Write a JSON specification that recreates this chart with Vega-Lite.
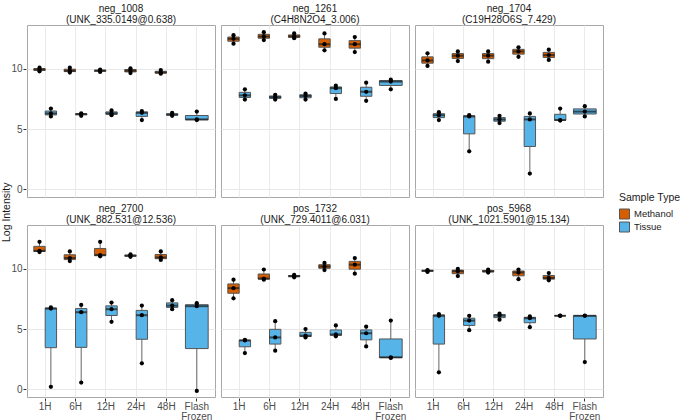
{
"$schema": "https://vega.github.io/schema/vega-lite/v6.json",
"padding": {"left": 2, "top": 3, "right": 0, "bottom": 0},
"background": "white",
"config": {
  "font": "Liberation Sans",
  "view": {"stroke": "#a8a8a8", "strokeWidth": 1},
  "axis": {"labelFontSize": 10, "labelColor": "#4d4d4d", "tickColor": "#333333", "tickSize": 3, "domain": false, "labelPadding": 1}
},
"title": {"text": "Log Intensity", "orient": "left", "anchor": "middle", "fontSize": 10.5, "fontWeight": "normal", "color": "#1a1a1a", "offset": -2},
"data": {"values": [
{"p":"neg_1008 (UNK_335.0149@0.638)","t":"1H","s":"Methanol","v":10.1},
{"p":"neg_1008 (UNK_335.0149@0.638)","t":"1H","s":"Methanol","v":9.95},
{"p":"neg_1008 (UNK_335.0149@0.638)","t":"1H","s":"Methanol","v":9.8},
{"p":"neg_1008 (UNK_335.0149@0.638)","t":"6H","s":"Methanol","v":10.1},
{"p":"neg_1008 (UNK_335.0149@0.638)","t":"6H","s":"Methanol","v":9.85},
{"p":"neg_1008 (UNK_335.0149@0.638)","t":"6H","s":"Methanol","v":9.7},
{"p":"neg_1008 (UNK_335.0149@0.638)","t":"12H","s":"Methanol","v":9.95},
{"p":"neg_1008 (UNK_335.0149@0.638)","t":"12H","s":"Methanol","v":9.85},
{"p":"neg_1008 (UNK_335.0149@0.638)","t":"12H","s":"Methanol","v":9.75},
{"p":"neg_1008 (UNK_335.0149@0.638)","t":"24H","s":"Methanol","v":10.05},
{"p":"neg_1008 (UNK_335.0149@0.638)","t":"24H","s":"Methanol","v":9.85},
{"p":"neg_1008 (UNK_335.0149@0.638)","t":"24H","s":"Methanol","v":9.65},
{"p":"neg_1008 (UNK_335.0149@0.638)","t":"48H","s":"Methanol","v":9.9},
{"p":"neg_1008 (UNK_335.0149@0.638)","t":"48H","s":"Methanol","v":9.7},
{"p":"neg_1008 (UNK_335.0149@0.638)","t":"48H","s":"Methanol","v":9.6},
{"p":"neg_1008 (UNK_335.0149@0.638)","t":"1H","s":"Tissue","v":6.7},
{"p":"neg_1008 (UNK_335.0149@0.638)","t":"1H","s":"Tissue","v":6.3},
{"p":"neg_1008 (UNK_335.0149@0.638)","t":"1H","s":"Tissue","v":6.05},
{"p":"neg_1008 (UNK_335.0149@0.638)","t":"6H","s":"Tissue","v":6.3},
{"p":"neg_1008 (UNK_335.0149@0.638)","t":"6H","s":"Tissue","v":6.25},
{"p":"neg_1008 (UNK_335.0149@0.638)","t":"6H","s":"Tissue","v":6.1},
{"p":"neg_1008 (UNK_335.0149@0.638)","t":"12H","s":"Tissue","v":6.55},
{"p":"neg_1008 (UNK_335.0149@0.638)","t":"12H","s":"Tissue","v":6.3},
{"p":"neg_1008 (UNK_335.0149@0.638)","t":"12H","s":"Tissue","v":6.15},
{"p":"neg_1008 (UNK_335.0149@0.638)","t":"24H","s":"Tissue","v":6.5},
{"p":"neg_1008 (UNK_335.0149@0.638)","t":"24H","s":"Tissue","v":6.35},
{"p":"neg_1008 (UNK_335.0149@0.638)","t":"24H","s":"Tissue","v":5.75},
{"p":"neg_1008 (UNK_335.0149@0.638)","t":"48H","s":"Tissue","v":6.35},
{"p":"neg_1008 (UNK_335.0149@0.638)","t":"48H","s":"Tissue","v":6.2},
{"p":"neg_1008 (UNK_335.0149@0.638)","t":"48H","s":"Tissue","v":6.1},
{"p":"neg_1008 (UNK_335.0149@0.638)","t":"Flash Frozen","s":"Tissue","v":6.45},
{"p":"neg_1008 (UNK_335.0149@0.638)","t":"Flash Frozen","s":"Tissue","v":5.8},
{"p":"neg_1008 (UNK_335.0149@0.638)","t":"Flash Frozen","s":"Tissue","v":5.75},
{"p":"neg_1261 (C4H8N2O4_3.006)","t":"1H","s":"Methanol","v":12.8},
{"p":"neg_1261 (C4H8N2O4_3.006)","t":"1H","s":"Methanol","v":12.5},
{"p":"neg_1261 (C4H8N2O4_3.006)","t":"1H","s":"Methanol","v":12.1},
{"p":"neg_1261 (C4H8N2O4_3.006)","t":"6H","s":"Methanol","v":13.05},
{"p":"neg_1261 (C4H8N2O4_3.006)","t":"6H","s":"Methanol","v":12.7},
{"p":"neg_1261 (C4H8N2O4_3.006)","t":"6H","s":"Methanol","v":12.4},
{"p":"neg_1261 (C4H8N2O4_3.006)","t":"12H","s":"Methanol","v":12.95},
{"p":"neg_1261 (C4H8N2O4_3.006)","t":"12H","s":"Methanol","v":12.7},
{"p":"neg_1261 (C4H8N2O4_3.006)","t":"12H","s":"Methanol","v":12.55},
{"p":"neg_1261 (C4H8N2O4_3.006)","t":"24H","s":"Methanol","v":12.95},
{"p":"neg_1261 (C4H8N2O4_3.006)","t":"24H","s":"Methanol","v":12.05},
{"p":"neg_1261 (C4H8N2O4_3.006)","t":"24H","s":"Methanol","v":11.55},
{"p":"neg_1261 (C4H8N2O4_3.006)","t":"48H","s":"Methanol","v":12.65},
{"p":"neg_1261 (C4H8N2O4_3.006)","t":"48H","s":"Methanol","v":12.05},
{"p":"neg_1261 (C4H8N2O4_3.006)","t":"48H","s":"Methanol","v":11.4},
{"p":"neg_1261 (C4H8N2O4_3.006)","t":"1H","s":"Tissue","v":8.3},
{"p":"neg_1261 (C4H8N2O4_3.006)","t":"1H","s":"Tissue","v":7.8},
{"p":"neg_1261 (C4H8N2O4_3.006)","t":"1H","s":"Tissue","v":7.45},
{"p":"neg_1261 (C4H8N2O4_3.006)","t":"6H","s":"Tissue","v":7.85},
{"p":"neg_1261 (C4H8N2O4_3.006)","t":"6H","s":"Tissue","v":7.65},
{"p":"neg_1261 (C4H8N2O4_3.006)","t":"6H","s":"Tissue","v":7.45},
{"p":"neg_1261 (C4H8N2O4_3.006)","t":"12H","s":"Tissue","v":7.95},
{"p":"neg_1261 (C4H8N2O4_3.006)","t":"12H","s":"Tissue","v":7.75},
{"p":"neg_1261 (C4H8N2O4_3.006)","t":"12H","s":"Tissue","v":7.45},
{"p":"neg_1261 (C4H8N2O4_3.006)","t":"24H","s":"Tissue","v":8.6},
{"p":"neg_1261 (C4H8N2O4_3.006)","t":"24H","s":"Tissue","v":8.4},
{"p":"neg_1261 (C4H8N2O4_3.006)","t":"24H","s":"Tissue","v":7.5},
{"p":"neg_1261 (C4H8N2O4_3.006)","t":"48H","s":"Tissue","v":8.85},
{"p":"neg_1261 (C4H8N2O4_3.006)","t":"48H","s":"Tissue","v":8.1},
{"p":"neg_1261 (C4H8N2O4_3.006)","t":"48H","s":"Tissue","v":7.35},
{"p":"neg_1261 (C4H8N2O4_3.006)","t":"Flash Frozen","s":"Tissue","v":9.1},
{"p":"neg_1261 (C4H8N2O4_3.006)","t":"Flash Frozen","s":"Tissue","v":8.95},
{"p":"neg_1261 (C4H8N2O4_3.006)","t":"Flash Frozen","s":"Tissue","v":8.3},
{"p":"neg_1704 (C19H28O6S_7.429)","t":"1H","s":"Methanol","v":11.3},
{"p":"neg_1704 (C19H28O6S_7.429)","t":"1H","s":"Methanol","v":10.7},
{"p":"neg_1704 (C19H28O6S_7.429)","t":"1H","s":"Methanol","v":10.25},
{"p":"neg_1704 (C19H28O6S_7.429)","t":"6H","s":"Methanol","v":11.45},
{"p":"neg_1704 (C19H28O6S_7.429)","t":"6H","s":"Methanol","v":11.1},
{"p":"neg_1704 (C19H28O6S_7.429)","t":"6H","s":"Methanol","v":10.65},
{"p":"neg_1704 (C19H28O6S_7.429)","t":"12H","s":"Methanol","v":11.45},
{"p":"neg_1704 (C19H28O6S_7.429)","t":"12H","s":"Methanol","v":11.1},
{"p":"neg_1704 (C19H28O6S_7.429)","t":"12H","s":"Methanol","v":10.6},
{"p":"neg_1704 (C19H28O6S_7.429)","t":"24H","s":"Methanol","v":11.8},
{"p":"neg_1704 (C19H28O6S_7.429)","t":"24H","s":"Methanol","v":11.45},
{"p":"neg_1704 (C19H28O6S_7.429)","t":"24H","s":"Methanol","v":11.0},
{"p":"neg_1704 (C19H28O6S_7.429)","t":"48H","s":"Methanol","v":11.6},
{"p":"neg_1704 (C19H28O6S_7.429)","t":"48H","s":"Methanol","v":11.15},
{"p":"neg_1704 (C19H28O6S_7.429)","t":"48H","s":"Methanol","v":10.75},
{"p":"neg_1704 (C19H28O6S_7.429)","t":"1H","s":"Tissue","v":6.4},
{"p":"neg_1704 (C19H28O6S_7.429)","t":"1H","s":"Tissue","v":6.15},
{"p":"neg_1704 (C19H28O6S_7.429)","t":"1H","s":"Tissue","v":5.75},
{"p":"neg_1704 (C19H28O6S_7.429)","t":"6H","s":"Tissue","v":6.15},
{"p":"neg_1704 (C19H28O6S_7.429)","t":"6H","s":"Tissue","v":6.05},
{"p":"neg_1704 (C19H28O6S_7.429)","t":"6H","s":"Tissue","v":3.15},
{"p":"neg_1704 (C19H28O6S_7.429)","t":"12H","s":"Tissue","v":6.1},
{"p":"neg_1704 (C19H28O6S_7.429)","t":"12H","s":"Tissue","v":5.8},
{"p":"neg_1704 (C19H28O6S_7.429)","t":"12H","s":"Tissue","v":5.5},
{"p":"neg_1704 (C19H28O6S_7.429)","t":"24H","s":"Tissue","v":6.3},
{"p":"neg_1704 (C19H28O6S_7.429)","t":"24H","s":"Tissue","v":5.8},
{"p":"neg_1704 (C19H28O6S_7.429)","t":"24H","s":"Tissue","v":1.3},
{"p":"neg_1704 (C19H28O6S_7.429)","t":"48H","s":"Tissue","v":6.7},
{"p":"neg_1704 (C19H28O6S_7.429)","t":"48H","s":"Tissue","v":5.75},
{"p":"neg_1704 (C19H28O6S_7.429)","t":"48H","s":"Tissue","v":5.7},
{"p":"neg_1704 (C19H28O6S_7.429)","t":"Flash Frozen","s":"Tissue","v":6.9},
{"p":"neg_1704 (C19H28O6S_7.429)","t":"Flash Frozen","s":"Tissue","v":6.45},
{"p":"neg_1704 (C19H28O6S_7.429)","t":"Flash Frozen","s":"Tissue","v":6.05},
{"p":"neg_2700 (UNK_882.531@12.536)","t":"1H","s":"Methanol","v":12.25},
{"p":"neg_2700 (UNK_882.531@12.536)","t":"1H","s":"Methanol","v":11.5},
{"p":"neg_2700 (UNK_882.531@12.536)","t":"1H","s":"Methanol","v":11.4},
{"p":"neg_2700 (UNK_882.531@12.536)","t":"6H","s":"Methanol","v":11.45},
{"p":"neg_2700 (UNK_882.531@12.536)","t":"6H","s":"Methanol","v":10.9},
{"p":"neg_2700 (UNK_882.531@12.536)","t":"6H","s":"Methanol","v":10.65},
{"p":"neg_2700 (UNK_882.531@12.536)","t":"12H","s":"Methanol","v":12.25},
{"p":"neg_2700 (UNK_882.531@12.536)","t":"12H","s":"Methanol","v":11.15},
{"p":"neg_2700 (UNK_882.531@12.536)","t":"12H","s":"Methanol","v":11.05},
{"p":"neg_2700 (UNK_882.531@12.536)","t":"24H","s":"Methanol","v":11.2},
{"p":"neg_2700 (UNK_882.531@12.536)","t":"24H","s":"Methanol","v":11.1},
{"p":"neg_2700 (UNK_882.531@12.536)","t":"24H","s":"Methanol","v":11.0},
{"p":"neg_2700 (UNK_882.531@12.536)","t":"48H","s":"Methanol","v":11.45},
{"p":"neg_2700 (UNK_882.531@12.536)","t":"48H","s":"Methanol","v":10.95},
{"p":"neg_2700 (UNK_882.531@12.536)","t":"48H","s":"Methanol","v":10.75},
{"p":"neg_2700 (UNK_882.531@12.536)","t":"1H","s":"Tissue","v":6.8},
{"p":"neg_2700 (UNK_882.531@12.536)","t":"1H","s":"Tissue","v":6.7},
{"p":"neg_2700 (UNK_882.531@12.536)","t":"1H","s":"Tissue","v":0.2},
{"p":"neg_2700 (UNK_882.531@12.536)","t":"6H","s":"Tissue","v":7.0},
{"p":"neg_2700 (UNK_882.531@12.536)","t":"6H","s":"Tissue","v":6.4},
{"p":"neg_2700 (UNK_882.531@12.536)","t":"6H","s":"Tissue","v":0.55},
{"p":"neg_2700 (UNK_882.531@12.536)","t":"12H","s":"Tissue","v":7.2},
{"p":"neg_2700 (UNK_882.531@12.536)","t":"12H","s":"Tissue","v":6.65},
{"p":"neg_2700 (UNK_882.531@12.536)","t":"12H","s":"Tissue","v":5.6},
{"p":"neg_2700 (UNK_882.531@12.536)","t":"24H","s":"Tissue","v":6.95},
{"p":"neg_2700 (UNK_882.531@12.536)","t":"24H","s":"Tissue","v":6.15},
{"p":"neg_2700 (UNK_882.531@12.536)","t":"24H","s":"Tissue","v":2.15},
{"p":"neg_2700 (UNK_882.531@12.536)","t":"48H","s":"Tissue","v":7.4},
{"p":"neg_2700 (UNK_882.531@12.536)","t":"48H","s":"Tissue","v":6.95},
{"p":"neg_2700 (UNK_882.531@12.536)","t":"48H","s":"Tissue","v":6.65},
{"p":"neg_2700 (UNK_882.531@12.536)","t":"Flash Frozen","s":"Tissue","v":7.15},
{"p":"neg_2700 (UNK_882.531@12.536)","t":"Flash Frozen","s":"Tissue","v":6.9},
{"p":"neg_2700 (UNK_882.531@12.536)","t":"Flash Frozen","s":"Tissue","v":-0.15},
{"p":"pos_1732 (UNK_729.4011@6.031)","t":"1H","s":"Methanol","v":9.1},
{"p":"pos_1732 (UNK_729.4011@6.031)","t":"1H","s":"Methanol","v":8.4},
{"p":"pos_1732 (UNK_729.4011@6.031)","t":"1H","s":"Methanol","v":7.55},
{"p":"pos_1732 (UNK_729.4011@6.031)","t":"6H","s":"Methanol","v":9.95},
{"p":"pos_1732 (UNK_729.4011@6.031)","t":"6H","s":"Methanol","v":9.2},
{"p":"pos_1732 (UNK_729.4011@6.031)","t":"6H","s":"Methanol","v":9.1},
{"p":"pos_1732 (UNK_729.4011@6.031)","t":"12H","s":"Methanol","v":9.5},
{"p":"pos_1732 (UNK_729.4011@6.031)","t":"12H","s":"Methanol","v":9.4},
{"p":"pos_1732 (UNK_729.4011@6.031)","t":"12H","s":"Methanol","v":9.3},
{"p":"pos_1732 (UNK_729.4011@6.031)","t":"24H","s":"Methanol","v":10.5},
{"p":"pos_1732 (UNK_729.4011@6.031)","t":"24H","s":"Methanol","v":10.2},
{"p":"pos_1732 (UNK_729.4011@6.031)","t":"24H","s":"Methanol","v":9.9},
{"p":"pos_1732 (UNK_729.4011@6.031)","t":"48H","s":"Methanol","v":10.9},
{"p":"pos_1732 (UNK_729.4011@6.031)","t":"48H","s":"Methanol","v":10.35},
{"p":"pos_1732 (UNK_729.4011@6.031)","t":"48H","s":"Methanol","v":9.6},
{"p":"pos_1732 (UNK_729.4011@6.031)","t":"1H","s":"Tissue","v":4.1},
{"p":"pos_1732 (UNK_729.4011@6.031)","t":"1H","s":"Tissue","v":4.05},
{"p":"pos_1732 (UNK_729.4011@6.031)","t":"1H","s":"Tissue","v":3.0},
{"p":"pos_1732 (UNK_729.4011@6.031)","t":"6H","s":"Tissue","v":5.65},
{"p":"pos_1732 (UNK_729.4011@6.031)","t":"6H","s":"Tissue","v":4.3},
{"p":"pos_1732 (UNK_729.4011@6.031)","t":"6H","s":"Tissue","v":3.2},
{"p":"pos_1732 (UNK_729.4011@6.031)","t":"12H","s":"Tissue","v":5.0},
{"p":"pos_1732 (UNK_729.4011@6.031)","t":"12H","s":"Tissue","v":4.45},
{"p":"pos_1732 (UNK_729.4011@6.031)","t":"12H","s":"Tissue","v":4.3},
{"p":"pos_1732 (UNK_729.4011@6.031)","t":"24H","s":"Tissue","v":5.3},
{"p":"pos_1732 (UNK_729.4011@6.031)","t":"24H","s":"Tissue","v":4.55},
{"p":"pos_1732 (UNK_729.4011@6.031)","t":"24H","s":"Tissue","v":4.4},
{"p":"pos_1732 (UNK_729.4011@6.031)","t":"48H","s":"Tissue","v":5.2},
{"p":"pos_1732 (UNK_729.4011@6.031)","t":"48H","s":"Tissue","v":4.65},
{"p":"pos_1732 (UNK_729.4011@6.031)","t":"48H","s":"Tissue","v":3.55},
{"p":"pos_1732 (UNK_729.4011@6.031)","t":"Flash Frozen","s":"Tissue","v":5.7},
{"p":"pos_1732 (UNK_729.4011@6.031)","t":"Flash Frozen","s":"Tissue","v":2.65},
{"p":"pos_1732 (UNK_729.4011@6.031)","t":"Flash Frozen","s":"Tissue","v":2.6},
{"p":"pos_5968 (UNK_1021.5901@15.134)","t":"1H","s":"Methanol","v":9.9},
{"p":"pos_5968 (UNK_1021.5901@15.134)","t":"1H","s":"Methanol","v":9.85},
{"p":"pos_5968 (UNK_1021.5901@15.134)","t":"1H","s":"Methanol","v":9.75},
{"p":"pos_5968 (UNK_1021.5901@15.134)","t":"6H","s":"Methanol","v":10.0},
{"p":"pos_5968 (UNK_1021.5901@15.134)","t":"6H","s":"Methanol","v":9.8},
{"p":"pos_5968 (UNK_1021.5901@15.134)","t":"6H","s":"Methanol","v":9.4},
{"p":"pos_5968 (UNK_1021.5901@15.134)","t":"12H","s":"Methanol","v":9.95},
{"p":"pos_5968 (UNK_1021.5901@15.134)","t":"12H","s":"Methanol","v":9.8},
{"p":"pos_5968 (UNK_1021.5901@15.134)","t":"12H","s":"Methanol","v":9.7},
{"p":"pos_5968 (UNK_1021.5901@15.134)","t":"24H","s":"Methanol","v":9.95},
{"p":"pos_5968 (UNK_1021.5901@15.134)","t":"24H","s":"Methanol","v":9.7},
{"p":"pos_5968 (UNK_1021.5901@15.134)","t":"24H","s":"Methanol","v":9.15},
{"p":"pos_5968 (UNK_1021.5901@15.134)","t":"48H","s":"Methanol","v":9.65},
{"p":"pos_5968 (UNK_1021.5901@15.134)","t":"48H","s":"Methanol","v":9.25},
{"p":"pos_5968 (UNK_1021.5901@15.134)","t":"48H","s":"Methanol","v":9.05},
{"p":"pos_5968 (UNK_1021.5901@15.134)","t":"1H","s":"Tissue","v":6.25},
{"p":"pos_5968 (UNK_1021.5901@15.134)","t":"1H","s":"Tissue","v":6.1},
{"p":"pos_5968 (UNK_1021.5901@15.134)","t":"1H","s":"Tissue","v":1.4},
{"p":"pos_5968 (UNK_1021.5901@15.134)","t":"6H","s":"Tissue","v":6.1},
{"p":"pos_5968 (UNK_1021.5901@15.134)","t":"6H","s":"Tissue","v":5.7},
{"p":"pos_5968 (UNK_1021.5901@15.134)","t":"6H","s":"Tissue","v":4.9},
{"p":"pos_5968 (UNK_1021.5901@15.134)","t":"12H","s":"Tissue","v":6.28},
{"p":"pos_5968 (UNK_1021.5901@15.134)","t":"12H","s":"Tissue","v":6.12},
{"p":"pos_5968 (UNK_1021.5901@15.134)","t":"12H","s":"Tissue","v":5.78},
{"p":"pos_5968 (UNK_1021.5901@15.134)","t":"24H","s":"Tissue","v":6.05},
{"p":"pos_5968 (UNK_1021.5901@15.134)","t":"24H","s":"Tissue","v":5.9},
{"p":"pos_5968 (UNK_1021.5901@15.134)","t":"24H","s":"Tissue","v":5.15},
{"p":"pos_5968 (UNK_1021.5901@15.134)","t":"48H","s":"Tissue","v":6.12},
{"p":"pos_5968 (UNK_1021.5901@15.134)","t":"48H","s":"Tissue","v":6.1},
{"p":"pos_5968 (UNK_1021.5901@15.134)","t":"48H","s":"Tissue","v":6.1},
{"p":"pos_5968 (UNK_1021.5901@15.134)","t":"Flash Frozen","s":"Tissue","v":6.12},
{"p":"pos_5968 (UNK_1021.5901@15.134)","t":"Flash Frozen","s":"Tissue","v":6.1},
{"p":"pos_5968 (UNK_1021.5901@15.134)","t":"Flash Frozen","s":"Tissue","v":2.25}
]},
"facet": {"field": "p", "type": "nominal", "header": {"title": null, "labelExpr": "split(datum.value, ' ')", "labelFontSize": 10, "labelColor": "#1a1a1a", "labelPadding": 0, "labelLineHeight": 11}},
"columns": 3,
"spacing": {"row": 5, "column": 4},
"spec": {
  "width": 188,
  "height": 172,
  "encoding": {
    "x": {"field": "t", "type": "nominal", "title": null,
      "scale": {"domain": ["1H", "6H", "12H", "24H", "48H", "Flash Frozen"], "paddingInner": 0, "paddingOuter": 0.1},
      "axis": {"labelAngle": 0, "bandPosition": 0.5, "grid": true, "gridColor": "#ebebeb", "labelPadding": 0, "labelExpr": "datum.value == 'Flash Frozen' ? ['Flash', 'Frozen'] : datum.value", "labelLineHeight": 10}}
  },
  "layer": [
    {
      "transform": [
        {"filter": "datum.t != 'Flash Frozen'"},
        {"aggregate": [{"op": "min", "field": "v", "as": "lo"}, {"op": "max", "field": "v", "as": "hi"}, {"op": "q1", "field": "v", "as": "q1"}, {"op": "q3", "field": "v", "as": "q3"}, {"op": "median", "field": "v", "as": "med"}], "groupby": ["p", "t", "s"]}
      ],
      "encoding": {"xOffset": {"field": "s", "type": "nominal", "scale": {"domain": ["Methanol", "Tissue"], "paddingInner": 0, "paddingOuter": 0.3333}}},
      "layer": [
        {"mark": {"type": "rule", "color": "#666666", "strokeWidth": 1},
         "encoding": {
           "y": {"field": "lo", "type": "quantitative", "title": null,
             "scale": {"domain": [-0.65, 13.65], "nice": false, "zero": false},
             "axis": {"values": [0, 2.5, 5, 7.5, 10, 12.5], "labelExpr": "datum.value % 5 == 0 ? datum.label : ''",
               "gridColor": {"condition": {"test": "datum.value % 5 == 0", "value": "#e8e8e8"}, "value": "#f3f3f3"},
               "tickOpacity": {"condition": {"test": "datum.value % 5 == 0", "value": 1}, "value": 0}}},
           "y2": {"field": "hi"}}},
        {"mark": {"type": "bar", "stroke": "#555555", "strokeWidth": 1},
         "encoding": {
           "y": {"field": "q1", "type": "quantitative"}, "y2": {"field": "q3"},
           "fill": {"field": "s", "type": "nominal", "scale": {"domain": ["Methanol", "Tissue"], "range": ["#D55E00", "#56B4E9"]},
             "legend": {"title": "Sample Type", "symbolType": "square", "symbolSize": 100, "symbolStrokeColor": "#555555", "symbolStrokeWidth": 1, "titleFontSize": 10.5, "titleFontWeight": "normal", "titleColor": "#1a1a1a", "titlePadding": 5, "labelFontSize": 9.5, "labelColor": "#1a1a1a", "rowPadding": -3, "labelOffset": 4, "orient": "none", "legendX": 592, "legendY": 168}}}},
        {"mark": {"type": "tick", "color": "#1a1a1a", "thickness": 2, "size": 11.4},
         "encoding": {"y": {"field": "med", "type": "quantitative"}}}
      ]
    },
    {
      "transform": [
        {"filter": "datum.t == 'Flash Frozen'"},
        {"aggregate": [{"op": "min", "field": "v", "as": "lo"}, {"op": "max", "field": "v", "as": "hi"}, {"op": "q1", "field": "v", "as": "q1"}, {"op": "q3", "field": "v", "as": "q3"}, {"op": "median", "field": "v", "as": "med"}], "groupby": ["p", "t", "s"]}
      ],
      "layer": [
        {"mark": {"type": "rule", "color": "#666666", "strokeWidth": 1},
         "encoding": {"y": {"field": "lo", "type": "quantitative"}, "y2": {"field": "hi"}}},
        {"mark": {"type": "bar", "stroke": "#555555", "strokeWidth": 1, "width": {"band": 0.75}},
         "encoding": {"y": {"field": "q1", "type": "quantitative"}, "y2": {"field": "q3"}, "fill": {"field": "s", "type": "nominal"}}},
        {"mark": {"type": "tick", "color": "#1a1a1a", "thickness": 2, "size": 22.7},
         "encoding": {"y": {"field": "med", "type": "quantitative"}}}
      ]
    },
    {
      "transform": [{"filter": "datum.t != 'Flash Frozen'"}],
      "mark": {"type": "point", "filled": true, "color": "black", "size": 18, "opacity": 1},
      "encoding": {"y": {"field": "v", "type": "quantitative"}, "xOffset": {"field": "s", "type": "nominal"}}
    },
    {
      "transform": [{"filter": "datum.t == 'Flash Frozen'"}],
      "mark": {"type": "point", "filled": true, "color": "black", "size": 18, "opacity": 1},
      "encoding": {"y": {"field": "v", "type": "quantitative"}}
    }
  ]
}
}
